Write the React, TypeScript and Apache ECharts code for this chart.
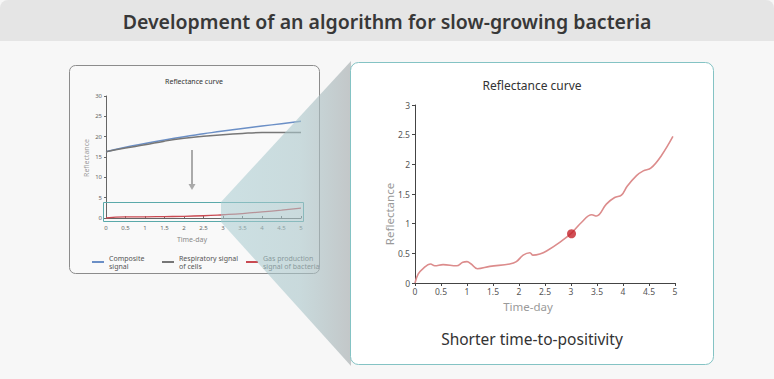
import React, { useEffect, useRef } from "react";
import * as echarts from "echarts";

// ---- Small (overview) chart data ----
const overviewDays = [0, 0.5, 1, 1.5, 2, 2.5, 3, 3.5, 4, 4.5, 5];
const compositeSignal = [16.3, 17.4, 18.3, 19.2, 20.0, 20.7, 21.4, 22.0, 22.6, 23.2, 23.8];
const respiratorySignal = [16.3, 17.2, 18.0, 18.9, 19.6, 20.1, 20.5, 20.8, 21.0, 21.05, 21.05];
const gasSignal = [0, 0.3, 0.3, 0.35, 0.4, 0.55, 0.8, 1.1, 1.5, 1.95, 2.45];

// ---- Detailed reflectance curve ----
const curveDays = [
  0, 0.06, 0.15, 0.3, 0.38, 0.54, 0.8, 0.92, 1.0, 1.08, 1.2, 1.44, 1.82, 1.95, 2.08, 2.21,
  2.27, 2.4, 2.53, 2.79, 3.01, 3.2, 3.4, 3.49, 3.68, 3.84, 3.97, 4.08, 4.26, 4.39, 4.54, 4.74, 4.96,
];
const curveValues = [
  0, 0.15, 0.24, 0.32, 0.29, 0.31, 0.29, 0.35, 0.36, 0.32, 0.24, 0.28, 0.32, 0.36, 0.47, 0.51,
  0.47, 0.49, 0.54, 0.69, 0.84, 1.02, 1.15, 1.13, 1.33, 1.44, 1.48, 1.63, 1.81, 1.89, 1.94, 2.15, 2.47,
];
const positivityDay = [3.01];
const positivityValue = [0.83];

const seriesNames = ["Composite signal", "Respiratory signal of cells", "Gas production signal of bacteria"];
const legendLabels = ["Composite\nsignal", "Respiratory signal\nof cells", "Gas production\nsignal of bacteria"];

const FONT = "'Noto Sans', 'Open Sans', sans-serif";

export default function App() {
  const ref = useRef<HTMLDivElement>(null);
  useEffect(() => {
    if (!ref.current) return;
    const chart = echarts.init(ref.current, undefined, { renderer: "svg" });
    const pairs = (xs: number[], ys: number[]) => xs.map((x, i) => [x, ys[i]]);
    const smallAxisLabel = { fontSize: 6, color: "#666", fontFamily: FONT };
    const bigAxisLabel = { fontSize: 8.5, color: "#555", fontFamily: FONT };

    const option: any = {
      animation: false,
      textStyle: { fontFamily: FONT },
      grid: [
        { left: 106, top: 96, width: 195, height: 122 },
        { left: 415, top: 105, width: 260, height: 178 },
      ],
      xAxis: [
        {
          gridIndex: 0, type: "value", min: 0, max: 5, interval: 0.5, offset: 3, z: 10,
          axisLine: { lineStyle: { color: "#666", width: 1 } },
          axisTick: { inside: true, length: 2, lineStyle: { color: "#666" } },
          axisLabel: { ...smallAxisLabel, margin: 4 },
          splitLine: { show: false },
        },
        {
          gridIndex: 1, type: "value", min: 0, max: 5, interval: 0.5, z: 40,
          axisLine: { lineStyle: { color: "#444", width: 1 } },
          axisTick: { length: 3, lineStyle: { color: "#444" } },
          axisLabel: { ...bigAxisLabel, margin: 4 },
          splitLine: { show: false },
        },
      ],
      yAxis: [
        {
          gridIndex: 0, type: "value", min: 0, max: 30, interval: 5, z: 10,
          axisLine: { show: true, lineStyle: { color: "#666", width: 1 } },
          axisTick: { show: true, length: 2, lineStyle: { color: "#666" } },
          axisLabel: { ...smallAxisLabel, margin: 4 },
          splitLine: { show: false },
        },
        {
          gridIndex: 1, type: "value", min: 0, max: 3, interval: 0.5, z: 40,
          axisLine: { show: true, lineStyle: { color: "#444", width: 1 } },
          axisTick: { show: true, length: 3, lineStyle: { color: "#444" } },
          axisLabel: { ...bigAxisLabel, margin: 5 },
          splitLine: { show: false },
        },
      ],
      legend: [0, 1, 2].map((i) => ({
        data: [seriesNames[i]],
        left: [87, 157, 241][i],
        top: 249,
        z: 12,
        icon: "rect",
        itemWidth: 12,
        itemHeight: 2,
        itemGap: 4,
        selectedMode: false,
        formatter: () => legendLabels[i],
        textStyle: { fontSize: 7, lineHeight: 8, color: "#555", fontFamily: FONT },
      })),
      series: [
        {
          name: seriesNames[0], type: "line", xAxisIndex: 0, yAxisIndex: 0, z: 12,
          data: pairs(overviewDays, compositeSignal), smooth: true, showSymbol: false,
          lineStyle: { color: "#6b8fc6", width: 1.5 }, itemStyle: { color: "#6b8fc6" },
        },
        {
          name: seriesNames[1], type: "line", xAxisIndex: 0, yAxisIndex: 0, z: 12,
          data: pairs(overviewDays, respiratorySignal), smooth: true, showSymbol: false,
          lineStyle: { color: "#777777", width: 1.5 }, itemStyle: { color: "#777777" },
        },
        {
          name: seriesNames[2], type: "line", xAxisIndex: 0, yAxisIndex: 0, z: 12,
          data: pairs(overviewDays, gasSignal), smooth: true, showSymbol: false,
          lineStyle: { color: "#c94a52", width: 1.3 }, itemStyle: { color: "#c94a52" },
        },
        {
          name: "Reflectance curve", type: "line", xAxisIndex: 1, yAxisIndex: 1, z: 42,
          data: pairs(curveDays, curveValues), smooth: 0.4, showSymbol: false,
          lineStyle: { color: "#dc8c8c", width: 1.6 },
        },
        {
          name: "Time-to-positivity", type: "scatter", xAxisIndex: 1, yAxisIndex: 1, z: 44,
          data: pairs(positivityDay, positivityValue), symbolSize: 9,
          itemStyle: { color: "#c4222a" },
        },
      ],
      graphic: [
        { type: "rect", z: 1, shape: { x: 0, y: 0, width: 774, height: 379 }, style: { fill: "#f7f7f7" } },
        { type: "rect", z: 2, shape: { x: 0, y: 0, width: 774, height: 41, r: [8, 8, 0, 0] }, style: { fill: "#e5e5e5" } },
        {
          type: "text", z: 3, x: 387, y: 21,
          style: { text: "Development of an algorithm for slow-growing bacteria", fontSize: 19.5, fontWeight: 600, fontFamily: FONT, fill: "#383838", align: "center", verticalAlign: "middle" },
        },
        // small panel
        { type: "rect", z: 3, shape: { x: 69.5, y: 65.5, width: 250, height: 208, r: 6 }, style: { fill: "#f9f9f9", stroke: "#8c8c8c", lineWidth: 1 } },
        {
          type: "text", z: 13, x: 194, y: 81,
          style: { text: "Reflectance curve", fontSize: 7, fontFamily: FONT, fill: "#333", align: "center", verticalAlign: "middle" },
        },
        {
          type: "text", z: 13, x: 86, y: 158, rotation: Math.PI / 2,
          style: { text: "Reflectance", fontSize: 7, fontFamily: FONT, fill: "#9a9a9a", align: "center", verticalAlign: "middle" },
        },
        {
          type: "text", z: 13, x: 192, y: 239,
          style: { text: "Time-day", fontSize: 7, fontFamily: FONT, fill: "#8a8a8a", align: "center", verticalAlign: "middle" },
        },
        { type: "rect", z: 13, shape: { x: 103.5, y: 202.5, width: 200, height: 19 }, style: { fill: "none", stroke: "#5aa9aa", lineWidth: 1 } },
        { type: "line", z: 13, shape: { x1: 192, y1: 150, x2: 192, y2: 185 }, style: { stroke: "#aaaaaa", lineWidth: 2 } },
        { type: "polygon", z: 13, shape: { points: [[188.5, 184], [195.5, 184], [192, 190]] }, style: { fill: "#aaaaaa" } },
        // overlay zoom wedge
        {
          type: "polygon", z: 20,
          shape: { points: [[221, 202], [351, 61], [351, 366], [221, 222]] },
          style: {
            fill: {
              type: "linear", x: 0, y: 0, x2: 1, y2: 0,
              colorStops: [
                { offset: 0, color: "rgba(168,204,209,0.55)" },
                { offset: 0.6, color: "rgba(170,198,202,0.6)" },
                { offset: 1, color: "rgba(172,178,180,0.7)" },
              ],
            },
          },
        },
        // big panel
        { type: "rect", z: 30, shape: { x: 350.5, y: 62.5, width: 363, height: 302, r: 8 }, style: { fill: "#ffffff", stroke: "#84c3c4", lineWidth: 1 } },
        {
          type: "text", z: 41, x: 532, y: 85,
          style: { text: "Reflectance curve", fontSize: 12, fontFamily: FONT, fill: "#333", align: "center", verticalAlign: "middle" },
        },
        {
          type: "text", z: 41, x: 389, y: 214, rotation: Math.PI / 2,
          style: { text: "Reflectance", fontSize: 11.5, fontFamily: FONT, fill: "#9a9a9a", align: "center", verticalAlign: "middle" },
        },
        {
          type: "text", z: 41, x: 528, y: 306,
          style: { text: "Time-day", fontSize: 11.5, fontFamily: FONT, fill: "#9a9a9a", align: "center", verticalAlign: "middle" },
        },
        {
          type: "text", z: 41, x: 532, y: 339,
          style: { text: "Shorter time-to-positivity", fontSize: 15.5, fontFamily: FONT, fill: "#333", align: "center", verticalAlign: "middle" },
        },
      ],
    };
    chart.setOption(option);
    return () => chart.dispose();
  }, []);
  return (
    <div
      ref={ref}
      style={{ position: "fixed", left: 0, top: 0, width: 774, height: 379, background: "#f7f7f7" }}
    />
  );
}
